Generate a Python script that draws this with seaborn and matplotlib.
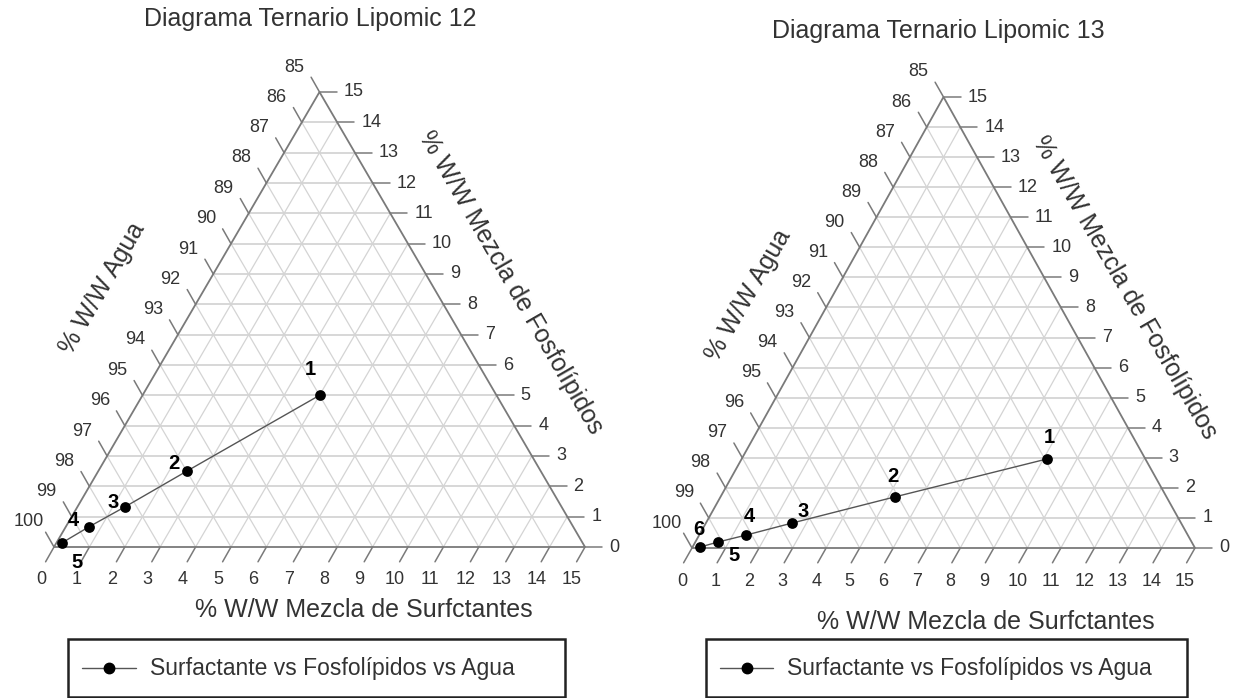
import numpy as np
import pandas as pd
import matplotlib
matplotlib.use("Agg")
import matplotlib.pyplot as plt
import seaborn as sns
from matplotlib.patches import Rectangle
from matplotlib.lines import Line2D

# ---- data -----------------------------------------------------------------
titles = ["Diagrama Ternario Lipomic 12", "Diagrama Ternario Lipomic 13"]

# Lipomic 12 : % w/w surfactant mix, phospholipid mix and water
lip12_surf = [5.0, 2.5, 1.35, 0.65, 0.15]
lip12_fosfo = [5.0, 2.5, 1.33, 0.66, 0.13]
lip12_agua = [90.0, 95.0, 97.32, 98.69, 99.72]
lip12_labels = ["1", "2", "3", "4", "5"]

# Lipomic 13
lip13_surf = [9.1, 5.2, 2.57, 1.4, 0.68, 0.22]
lip13_fosfo = [2.96, 1.7, 0.83, 0.43, 0.2, 0.03]
lip13_agua = [87.94, 93.1, 96.6, 98.17, 99.12, 99.75]
lip13_labels = ["1", "2", "3", "4", "5", "6"]

surf_ticks = list(range(0, 16))
fosfo_ticks = list(range(0, 16))
agua_ticks = list(range(85, 101))

x_label = "% W/W Mezcla de Surfctantes"
left_label = "% W/W Agua"
right_label = "% W/W Mezcla de Fosfolípidos"
legend_label = "Surfactante vs Fosfolípidos vs Agua"

# ---- style ----------------------------------------------------------------
sns.set_theme(style="white")
plt.rcParams["font.family"] = ["Liberation Sans", "DejaVu Sans"]

W, H = 1233, 698
fig = plt.figure(figsize=(W / 100, H / 100), dpi=100)
fig.patch.set_facecolor("white")

EDGE = "#7a7a7a"
GRID = "#d4d4d4"
TXT = "#333333"
TICK_FS = 13
NAME_FS = 18


def fx(px):
    return px / W


def fy(py):
    return 1 - py / H


def to_xy(s, p):
    # ternary -> cartesian (base = surfactant, apex = phospholipid)
    return np.asarray(s) + np.asarray(p) / 2.0, np.asarray(p)


panels = [
    dict(surf=lip12_surf, fos=lip12_fosfo, agua=lip12_agua, labels=lip12_labels,
         bl=54, br=585, base=547, top=92, bot_off=(-13, -33),
         title_xy=(310, 19), xlab_xy=(364, 610), llab_xy=(102, 288),
         rlab_xy=(511, 283), box=(68, 565), leg_line=(82, 136), leg_text=150,
         lab_off=[(-9, 26), (-13, 8), (-12, 4), (-15, 6), (15, -19)]),
    dict(surf=lip13_surf, fos=lip13_fosfo, agua=lip13_agua, labels=lip13_labels,
         bl=692, br=1195, base=548, top=97, bot_off=(-10, -33),
         title_xy=(938, 31), xlab_xy=(986, 622), llab_xy=(748, 295),
         rlab_xy=(1125, 288), box=(706, 1187), leg_line=(720, 773), leg_text=787,
         lab_off=[(3, 22), (-2, 20), (11, 12), (3, 19), (16, -14), (-1, 18)]),
]

for i, pn in enumerate(panels):
    ax = fig.add_axes([fx(pn["bl"]), fy(pn["base"]),
                       (pn["br"] - pn["bl"]) / W, (pn["base"] - pn["top"]) / H])
    ax.set_xlim(0, 15)
    ax.set_ylim(0, 15)
    ax.axis("off")
    sx = (pn["br"] - pn["bl"]) / 15.0
    sy = (pn["base"] - pn["top"]) / 15.0

    # grid lines
    for k in range(1, 15):
        ax.plot([k / 2, 15 - k / 2], [k, k], color=GRID, lw=1.3, zorder=1)
        ax.plot([k, k + (15 - k) / 2], [0, 15 - k], color=GRID, lw=0.9, zorder=1)
        ax.plot([k / 2, k], [k, 0], color=GRID, lw=0.9, zorder=1)

    # triangle outline
    ax.plot([0, 15, 7.5, 0], [0, 0, 15, 0], color=EDGE, lw=1.3,
            clip_on=False, zorder=2, solid_joinstyle="miter")

    tdx, tdy = 8.4 / sx, 14.8 / sy
    for k in surf_ticks:
        ax.plot([k, k - tdx], [0, -tdy], color=EDGE, lw=1.1, clip_on=False)
        ax.annotate(str(k), xy=(k, 0), xytext=pn["bot_off"], textcoords="offset pixels",
                    ha="center", va="center", fontsize=TICK_FS, color=TXT)
    for w in agua_ticks:
        p = 100 - w
        x0, y0 = p / 2, p
        ax.plot([x0, x0 - tdx], [y0, y0 + tdy], color=EDGE, lw=1.1, clip_on=False)
        ax.annotate(str(w), xy=(x0, y0), xytext=(-25, 25), textcoords="offset pixels",
                    ha="center", va="center", fontsize=TICK_FS, color=TXT)
    for p in fosfo_ticks:
        x0 = 15 - p / 2
        ax.plot([x0, x0 + 17 / sx], [p, p], color=EDGE, lw=1.1, clip_on=False)
        ax.annotate(str(p), xy=(x0, p), xytext=(24, 0), textcoords="offset pixels",
                    ha="left", va="center", fontsize=TICK_FS, color=TXT)

    # data series
    x, y = to_xy(pn["surf"], pn["fos"])
    df = pd.DataFrame({"x": x, "y": y, "agua": pn["agua"], "id": pn["labels"]})
    sns.lineplot(data=df, x="x", y="y", sort=False, color="#555555", lw=1.0,
                 ax=ax, zorder=4, legend=False)
    sns.scatterplot(data=df, x="x", y="y", color="black", s=60, edgecolor="black",
                    linewidth=0, ax=ax, zorder=5, legend=False, clip_on=False)
    for (xx, yy, lab), off in zip(zip(x, y, pn["labels"]), pn["lab_off"]):
        ax.annotate(lab, xy=(xx, yy), xytext=off, textcoords="offset pixels",
                    ha="center", va="center", fontsize=14.5, fontweight="bold",
                    color="black", zorder=6)
    ax.set_xlabel("")
    ax.set_ylabel("")

    # titles and axis names
    fig.text(fx(pn["title_xy"][0]), fy(pn["title_xy"][1]), titles[i],
             ha="center", va="center", fontsize=NAME_FS, color=TXT)
    fig.text(fx(pn["xlab_xy"][0]), fy(pn["xlab_xy"][1]), x_label,
             ha="center", va="center", fontsize=NAME_FS, color=TXT)
    fig.text(fx(pn["llab_xy"][0]), fy(pn["llab_xy"][1]), left_label,
             ha="center", va="center", fontsize=NAME_FS, color=TXT, rotation=60,
             rotation_mode="anchor")
    fig.text(fx(pn["rlab_xy"][0]), fy(pn["rlab_xy"][1]), right_label,
             ha="center", va="center", fontsize=NAME_FS, color=TXT, rotation=-60,
             rotation_mode="anchor")

    # legend box
    bx0, bx1 = pn["box"]
    fig.patches.append(Rectangle((fx(bx0), fy(697)), (bx1 - bx0) / W, (697 - 639) / H,
                                 transform=fig.transFigure, fill=False,
                                 edgecolor="#222222", lw=1.8))
    lx0, lx1 = pn["leg_line"]
    fig.lines.append(Line2D([fx(lx0), fx(lx1)], [fy(668), fy(668)],
                            transform=fig.transFigure, color="#555555", lw=1.0))
    fig.lines.append(Line2D([fx((lx0 + lx1) / 2)], [fy(668)], transform=fig.transFigure,
                            marker="o", color="black", markersize=7.5, lw=0))
    fig.text(fx(pn["leg_text"]), fy(668), legend_label, ha="left", va="center",
             fontsize=16.5, color=TXT)

fig.savefig("out.png", dpi=100, facecolor="white")
